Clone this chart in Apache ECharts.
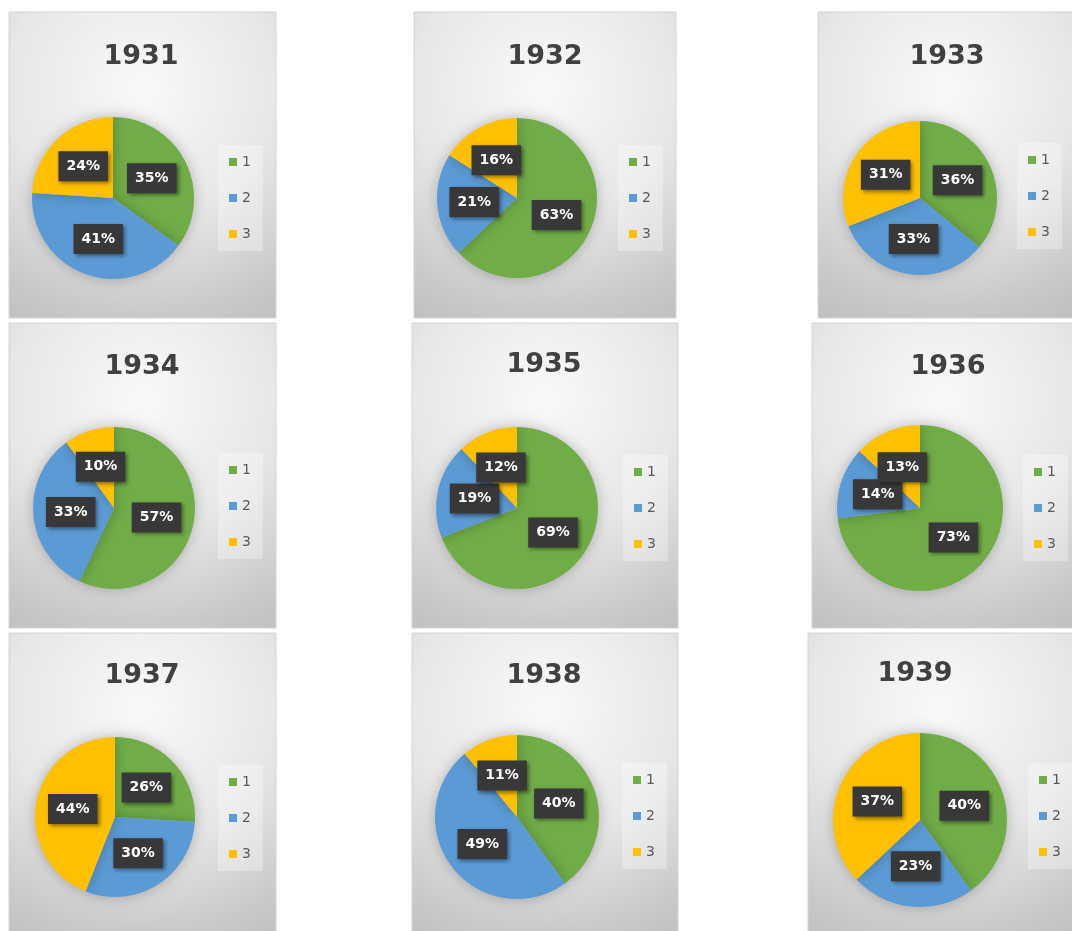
<!DOCTYPE html>
<html>
<head>
<meta charset="utf-8">
<script src="https://cdn.jsdelivr.net/npm/echarts@6/dist/echarts.min.js"></script>
<style>
    html, body { margin: 0; padding: 0; background: #ffffff; }
    #main { width: 1072px; height: 931px; }
</style>
</head>
<body>
<div id="main"></div>
<script>
"use strict";

// data: share of 1 / 2 / 3 per year (percent)
var years = ["1931", "1932", "1933", "1934", "1935", "1936", "1937", "1938", "1939"];
var categories = ["1", "2", "3"];
var share1 = [35, 63, 36, 57, 69, 73, 26, 40, 40];
var share2 = [41, 21, 33, 33, 19, 14, 30, 49, 23];
var share3 = [24, 16, 31, 10, 12, 13, 44, 11, 37];

// layout of the nine chart boxes (screen pixels)
var panels = [
    [9, 12, 267, 306], [414, 12, 262, 306], [818, 12, 256, 306],
    [9, 323, 267, 305], [412, 323, 266, 305], [812, 323, 262, 305],
    [9, 633, 267, 300], [412, 633, 266, 300], [808, 633, 266, 300]
];
var pieCenters = [
    [113, 198, 81], [517, 198, 80], [920, 198, 77],
    [114, 508, 81], [517, 508, 81], [920, 508, 83],
    [115, 817, 80], [517, 817, 82], [920, 820, 87]
];
var titlePos = [
    [141, 56], [545, 56], [947, 56],
    [142, 366], [544, 364], [948, 366],
    [142, 675], [544, 675], [915, 673]
];
var legendPos = [
    [218, 145], [618, 145], [1017, 143],
    [218, 453], [623, 455], [1023, 455],
    [218, 765], [622, 763], [1028, 763]
];

var colors = ["#70AD47", "#5B9BD5", "#FFC000"];

var chart = echarts.init(document.getElementById("main"), null, { renderer: "canvas" });

var graphics = [];
var titles = [];
var legends = [];
var series = [];

for (var i = 0; i < years.length; i++) {
    var p = panels[i];
    // panel background: light near the top middle, grey towards the bottom
    graphics.push({
        type: "rect",
        z: -10,
        shape: { x: p[0], y: p[1], width: p[2], height: p[3] },
        style: {
            fill: {
                type: "radial", x: 0.5, y: 0.25, r: 1.0,
                colorStops: [
                    { offset: 0, color: "#f9f9f9" },
                    { offset: 0.5, color: "#e7e7e7" },
                    { offset: 0.85, color: "#c9c9c9" },
                    { offset: 1, color: "#c0c0c0" }
                ]
            },
            stroke: "#d4d4d4",
            lineWidth: 1
        }
    });

    titles.push({
        text: years[i],
        left: titlePos[i][0],
        top: titlePos[i][1] - 13,
        textAlign: "center",
        padding: 0,
        textStyle: {
            fontFamily: "DejaVu Sans",
            fontSize: 27,
            fontWeight: "bold",
            color: "#404040"
        }
    });

    legends.push({
        data: categories,
        orient: "vertical",
        left: legendPos[i][0],
        top: legendPos[i][1],
        padding: [10, 12, 10, 11],
        itemGap: 22,
        itemWidth: 8,
        itemHeight: 8,
        icon: "rect",
        selectedMode: false,
        backgroundColor: "rgba(255,255,255,0.3)",
        textStyle: {
            fontFamily: "DejaVu Sans",
            fontSize: 14,
            color: "#595959",
            padding: [0, 0, 0, 0]
        }
    });

    series.push({
        type: "pie",
        center: [pieCenters[i][0], pieCenters[i][1]],
        radius: pieCenters[i][2],
        startAngle: 90,
        clockwise: true,
        silent: true,
        animation: false,
        avoidLabelOverlap: false,
        labelLayout: { hideOverlap: false },
        itemStyle: {
            shadowBlur: 14,
            shadowColor: "rgba(0,0,0,0.25)"
        },
        label: {
            show: true,
            position: "inside",
            formatter: "{c}%",
            fontFamily: "DejaVu Sans",
            fontSize: 14,
            fontWeight: "bold",
            color: "#ffffff",
            backgroundColor: "#383838",
            padding: [8, 8],
            shadowBlur: 4,
            shadowOffsetX: 2,
            shadowOffsetY: 2,
            shadowColor: "rgba(0,0,0,0.45)"
        },
        labelLine: { show: false },
        data: [
            { name: categories[0], value: share1[i] },
            { name: categories[1], value: share2[i] },
            { name: categories[2], value: share3[i] }
        ]
    });
}

chart.setOption({
    backgroundColor: "#ffffff",
    color: colors,
    animation: false,
    title: titles,
    legend: legends,
    graphic: graphics,
    series: series
});
</script>
</body>
</html>
